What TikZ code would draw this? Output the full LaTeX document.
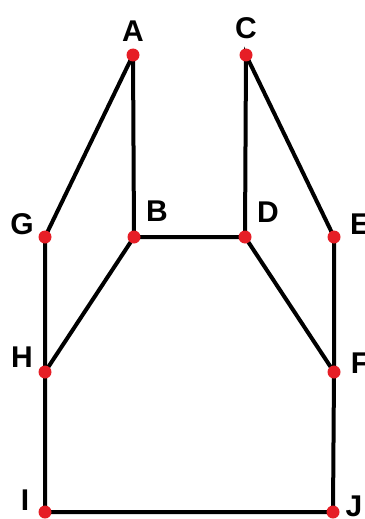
\documentclass[tikz,border=0pt]{standalone}
\usepackage{fontspec}
\setmainfont{Liberation Sans}
\definecolor{dotred}{RGB}{230,30,38}
\begin{document}
\begin{tikzpicture}[x=1pt,y=-1pt,
  edge/.style={line width=4pt,black},
  dot/.style={circle,fill=dotred,inner sep=0pt,minimum size=13pt},
  lbl/.style={font=\fontsize{30}{30}\selectfont\bfseries,inner sep=0pt}]
\useasboundingbox (0,0) rectangle (364,519);
\coordinate (A) at (133,55);
\coordinate (C) at (246,55);
\coordinate (G) at (45,237);
\coordinate (B) at (134,237);
\coordinate (D) at (245,237);
\coordinate (E) at (334,237);
\coordinate (H) at (45,372);
\coordinate (F) at (334,372);
\coordinate (I) at (45,512);
\coordinate (J) at (333,512);
\draw[edge] (A) -- (G) -- (H) -- (I) -- (J) -- (F) -- (E) -- (C) -- (D) -- (B) -- (A);
\draw[edge] (B) -- (H);
\draw[edge] (D) -- (F);
\foreach \p in {A,B,C,D,E,F,G,H,I,J} \node[dot] (d\p) at (\p) {};
\node[lbl] (lA) at (133,31) {A};
\node[lbl] (lC) at (246,28) {C};
\node[lbl] (lG) at (22,224) {G};
\node[lbl] (lB) at (157,211) {B};
\node[lbl] (lD) at (268,212) {D};
\node[lbl] (lE) at (360,224) {E};
\node[lbl] (lH) at (22,357) {H};
\node[lbl] (lF) at (360,363) {F};
\node[lbl] (lI) at (25,500) {I};
\node[lbl] (lJ) at (354,506) {J};
\end{tikzpicture}
\end{document}
